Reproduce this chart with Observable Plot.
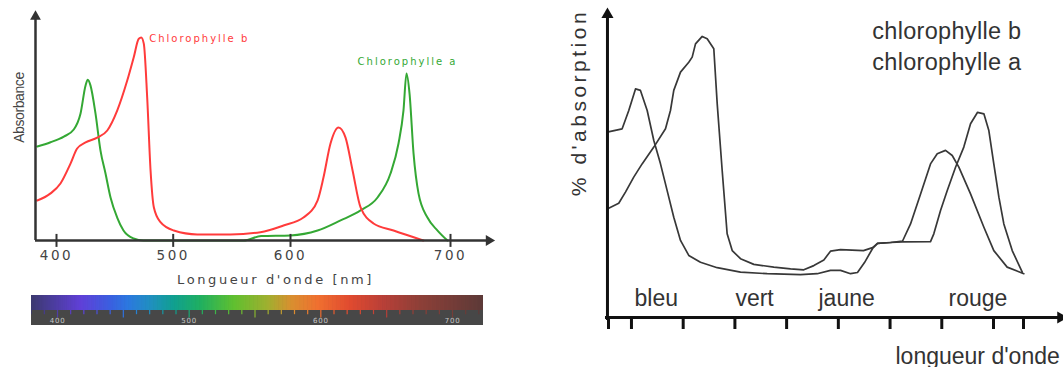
<!DOCTYPE html>
<html>
<head>
<meta charset="utf-8">
<script src="https://cdn.jsdelivr.net/npm/d3@7"></script>
<script src="https://cdn.jsdelivr.net/npm/@observablehq/plot@0.6"></script>
<style>
  html, body { margin: 0; padding: 0; background: #fff; width: 1063px; height: 367px; overflow: hidden; }
  #left, #spec, #right { position: absolute; }
  #left { left: 0; top: 0; width: 500px; height: 290px; }
  #spec { left: 31px; top: 295px; width: 452px; height: 30px; }
  #right { left: 560px; top: 0; width: 503px; height: 367px; }
</style>
</head>
<body>
<div id="left"></div>
<div id="spec"></div>
<div id="right"></div>
<script>
// ===================== DATA =====================
// Left chart: absorbance (arbitrary units) vs wavelength (nm)
const leftTicks = [400, 500, 600, 700];
const seriesNames = ["Chlorophylle b", "Chlorophylle a"];

const chlBNm  = [383.5, 394.9, 403.4, 412, 417.7, 424.9, 434.9, 443.5, 452, 460.6, 466.2, 470.5, 472.6, 474.8, 477.7, 480.6, 483.4, 489.1, 500.5, 520.5, 548.8, 574.4, 594, 608.1, 616.9, 620.6, 625, 630, 634.4, 638.8, 643.8, 651.9, 664.4, 683.1];
const chlBAbs = [19.7, 23.2, 28.1, 37.9, 45.3, 48.3, 50.7, 54.2, 64, 78.8, 90.3, 99.4, 100, 97, 70.6, 34.5, 16.4, 9, 4.9, 3, 3, 4.1, 7.4, 11.3, 19.7, 31, 47.8, 55.7, 50.7, 34.5, 16.3, 8.4, 4.9, 0];

const chlANm  = [383.5, 394.9, 406.3, 414.8, 420.6, 424.9, 426.8, 429.1, 433.4, 437.7, 442, 446.3, 452, 457.4, 466, 474.5, 560, 575, 600, 616.9, 631.3, 643.8, 654.4, 662.5, 667.5, 670.6, 672.5, 674.4, 676.9, 680, 685.6, 691.9, 698.1];
const chlAAbs = [46.3, 48.4, 51.2, 54.7, 62.6, 76.4, 79.2, 76.4, 62.6, 44.3, 33, 21.2, 11.3, 4.9, 1, 0, 0, 2.2, 2.5, 4.9, 9.9, 14.8, 21.2, 33, 47.8, 64, 82.3, 72.4, 42.9, 23.2, 11.3, 4.9, 0];

// Spectrum bar colour stops (nm -> colour)
const spectrumNm     = [380, 417.5, 440.3, 453.2, 470.6, 488.1, 508.6, 533.7, 559.5, 577, 597.5, 622.5, 647.6, 673.4, 724];
const spectrumColors = ["#3c3a70", "#6040d8", "#3a60e0", "#2c78e0", "#2090c0", "#10a090", "#20b060", "#60c030", "#a0b030", "#d89030", "#f07030", "#e04a30", "#b84038", "#904038", "#5c3a38"];
const spectrumLabels = [400, 500, 600, 700];

// Right chart: % absorption vs wavelength (nm, unlabelled ticks)
const rightTicks = [377.8, 400, 450, 500, 550, 600, 650, 700, 750, 779];
const colourNames = ["bleu", "vert", "jaune", "rouge"];
const colourNamePos = [424, 519, 608, 735];
const rightLegend = ["chlorophylle b", "chlorophylle a"];

const rightANm  = [376.5, 391, 397.4, 403.9, 408.7, 415.2, 421.6, 428, 434.5, 440.9, 447.4, 455.4, 466.7, 482.9, 505.4, 531.2, 563.4, 579.6, 592.4, 602.1, 611.8, 618.5, 625.3, 633.1, 637.9, 650.5, 662.1, 689.1, 692.3, 698.8, 705.3, 713.3, 721.3, 727.8, 734.6, 740.7, 745.5, 750.3, 755.2, 760, 768.1, 777.8];
const rightAAbs = [61.8, 62.9, 69, 76.2, 75.7, 69, 59, 51.3, 42.3, 33.4, 25.7, 20.7, 18.4, 16.6, 15.1, 14.6, 14.3, 14.6, 15.7, 15.7, 14.6, 15, 18.3, 23, 24.7, 25, 25.2, 25.3, 27.9, 35.7, 42.3, 50.1, 56.8, 64.6, 68.4, 67.9, 62.3, 51.2, 40.1, 31.2, 22.3, 15.1];

const rightBNm  = [376.5, 387.7, 394.2, 402.2, 410.3, 421.6, 432.9, 437.7, 440.9, 447.4, 455.4, 458.7, 461.9, 468.4, 473.2, 479.6, 482.9, 487.7, 492.5, 497.4, 505.4, 518.3, 537.6, 553.8, 566.6, 576.3, 586, 592.4, 602.1, 624.3, 633.1, 637.9, 650.5, 662.1, 669.8, 679.5, 689.1, 695.6, 703.6, 710.1, 716.5, 727.8, 740.7, 750.3, 763.2, 779.3];
const rightBAbs = [36.2, 38.1, 41.8, 46.8, 51.2, 56.8, 62.9, 69, 75.7, 81.8, 85.1, 86.8, 91.2, 93.7, 92.9, 89.6, 71.2, 49, 27.9, 22.3, 19.6, 17.7, 16.8, 16.2, 15.9, 17.3, 19.2, 22.1, 22.6, 22.3, 23.3, 24.7, 25, 25.5, 31.2, 41.2, 51.2, 54.6, 55.7, 54, 50.1, 41.2, 30.1, 22.3, 16.8, 14.6];

// ===================== BUILD =====================
const RED = "#ff3b3b", GREEN = "#34a834", AXIS_L = "#333", AXIS_R = "#111";
const rows = (xs, ys) => xs.map((x, i) => ({nm: x, v: ys[i]}));
const leftB = rows(chlBNm, chlBAbs);
const leftA = rows(chlANm, chlAAbs);
const peakB = {...d3.greatest(leftB, d => d.v), label: seriesNames[0]};
const peakA = {...d3.greatest(leftA, d => d.v), label: seriesNames[1]};

function letterSpace(svg, map) {
  d3.select(svg).selectAll("text").each(function () {
    const t = this.textContent;
    if (map.has(t)) this.style.letterSpacing = map.get(t) + "px";
  });
}

// ---- Left chart ----
const xl0 = 382, xl1 = 724; // axis extent (nm)
const leftPlot = Plot.plot({
  width: 500, height: 290,
  marginLeft: 35, marginRight: 5, marginTop: 10, marginBottom: 50,
  style: {fontFamily: "'DejaVu Sans', sans-serif", background: "#fff", color: "#444"},
  x: {type: "linear", domain: leftTicks, range: [56, 172.7, 290, 450], label: null},
  y: {type: "linear", domain: [0, 100], range: [240, 37], axis: null},
  marks: [
    Plot.line(leftA, {x: "nm", y: "v", stroke: GREEN, strokeWidth: 2, curve: "monotone-x"}),
    Plot.line(leftB, {x: "nm", y: "v", stroke: RED, strokeWidth: 2, curve: "monotone-x"}),
    Plot.ruleY([0], {x1: xl0, x2: xl1, stroke: AXIS_L, strokeWidth: 2.5}),
    Plot.ruleX([xl0], {y1: 0, y2: 110.3, stroke: AXIS_L, strokeWidth: 2.5}),
    Plot.ruleX(leftTicks, {y1: -3.4, y2: 3, stroke: AXIS_L, strokeWidth: 2}),
    Plot.dot([0], {x: xl0, y: 110.3, symbol: "triangle", r: 4, fill: AXIS_L}),
    Plot.dot([0], {x: xl1, y: 0, symbol: "triangle", r: 4, rotate: 90, fill: AXIS_L}),
    Plot.axisX({ticks: leftTicks, tickSize: 0, tickPadding: 10, fontSize: 13.5, label: null, fill: "#444"}),
    Plot.text(["Absorbance"], {frameAnchor: "left", rotate: -90, textAnchor: "middle", lineAnchor: "bottom", dx: -12, dy: -18,
      fontSize: 14, fontFamily: "'Liberation Sans', Arial, sans-serif", fill: "#444"}),
    Plot.text(["Longueur d'onde [nm]"], {frameAnchor: "bottom", textAnchor: "middle", lineAnchor: "bottom", dx: 10, dy: 43.5, fontSize: 13, fill: "#444"}),
    Plot.text([peakB], {x: "nm", y: "v", text: "label", textAnchor: "start", lineAnchor: "middle", dx: 8, dy: 1.3, fill: RED, fontSize: 10}),
    Plot.text([peakA], {x: "nm", y: "v", text: "label", textAnchor: "middle", lineAnchor: "middle", dx: 1, dy: -11.3, fill: GREEN, fontSize: 10})
  ]
});
letterSpace(leftPlot, new Map([["400", 2.5], ["500", 2.5], ["600", 2.5], ["700", 2.5],
  ["Longueur d'onde [nm]", 2.6], ["Chlorophylle b", 2], ["Chlorophylle a", 2], ["Absorbance", -0.4]]));
document.getElementById("left").append(leftPlot);

// ---- Spectrum bar ----
const specCells = d3.range(spectrumNm[0], spectrumNm[spectrumNm.length - 1], 1);
const specTicks = d3.range(380, 725, 10);
const specPlot = Plot.plot({
  width: 452, height: 30, margin: 0,
  style: {fontFamily: "'DejaVu Sans', sans-serif", background: "#474747"},
  x: {type: "linear", domain: [400, 700], range: [26, 421], axis: null},
  y: {type: "linear", domain: [0, 2], range: [30, 0], axis: null},
  color: {type: "linear", domain: spectrumNm, range: spectrumColors},
  marks: [
    Plot.rect(specCells, {x1: d => d, x2: d => d + 1.5, y1: 1, y2: 2, fill: d => d}),
    Plot.rect([0], {x1: spectrumNm[0], x2: spectrumNm[spectrumNm.length - 1], y1: 0, y2: 1, fill: "#474747"}),
    Plot.ruleX(specTicks, {y1: d => d % 50 === 0 ? 0.5 : 0.72, y2: 1, stroke: d => d, strokeWidth: 1.2}),
    Plot.text(spectrumLabels, {x: d => d, y: 0.3, text: d => String(d), fill: "#c8c8c8", fontSize: 7})
  ]
});
letterSpace(specPlot, new Map(spectrumLabels.map(d => [String(d), 0.8])));
document.getElementById("spec").append(specPlot);

// ---- Right chart ----
const rightA = rows(rightANm, rightAAbs);
const rightB = rows(rightBNm, rightBAbs);
const xr0 = 376.8, xr1 = 815; // axis extent (nm)
const rightPlot = Plot.plot({
  width: 503, height: 367,
  marginLeft: 48, marginRight: 40, marginTop: 17, marginBottom: 50,
  style: {fontFamily: "'Liberation Sans', Arial, sans-serif", background: "#fff", color: "#333"},
  x: {type: "linear", domain: [377.8, 779], axis: null},
  y: {type: "linear", domain: [0, 100], axis: null},
  marks: [
    Plot.line(rightA, {x: "nm", y: "v", stroke: "#383838", strokeWidth: 1.7}),
    Plot.line(rightB, {x: "nm", y: "v", stroke: "#383838", strokeWidth: 1.7}),
    Plot.ruleY([0], {x1: 374.9, x2: xr1, stroke: AXIS_R, strokeWidth: 3}),
    Plot.ruleX([xr0], {y1: -1, y2: 101, stroke: AXIS_R, strokeWidth: 3}),
    Plot.ruleX(rightTicks, {y1: -4, y2: 0, stroke: AXIS_R, strokeWidth: 3}),
    Plot.dot([0], {x: xr0, y: 101, symbol: "triangle", r: 4.5, fill: AXIS_R}),
    Plot.dot([0], {x: xr1, y: 0, symbol: "triangle", r: 4.5, rotate: 90, fill: AXIS_R}),
    Plot.text(colourNames, {x: (d, i) => colourNamePos[i], y: 4, textAnchor: "middle", lineAnchor: "bottom", fontSize: 23, fill: "#333"}),
    Plot.text([rightLegend.join("\n")], {frameAnchor: "top-right", textAnchor: "end", lineAnchor: "top", lineHeight: 1.304, dx: -2, fontSize: 23.5, fill: "#333"}),
    Plot.text(["% d'absorption"], {frameAnchor: "left", rotate: -90, textAnchor: "middle", lineAnchor: "bottom", dx: -23, dy: -65, fontSize: 21, fill: "#333"}),
    Plot.text(["longueur d'onde"], {frameAnchor: "bottom-right", textAnchor: "start", lineAnchor: "bottom", dx: -128, dy: 46, fontSize: 23, fill: "#333"})
  ]
});
letterSpace(rightPlot, new Map([["% d'absorption", 3.5]]));
d3.select(rightPlot).selectAll("tspan").filter(function () { return rightLegend.includes(this.textContent); }).style("letter-spacing", "0.3px");
document.getElementById("right").append(rightPlot);
</script>
</body>
</html>
